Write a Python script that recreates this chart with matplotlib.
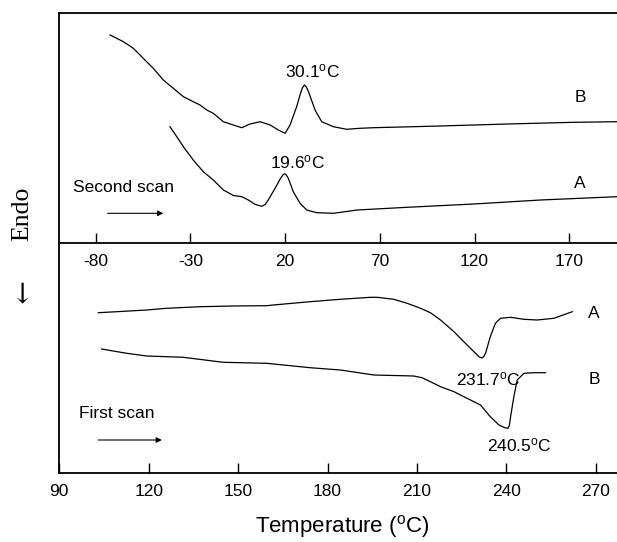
import matplotlib
matplotlib.use("Agg")
import matplotlib.pyplot as plt

plt.rcParams['font.family'] = ['Liberation Sans', 'DejaVu Sans']
plt.rcParams['mathtext.fontset'] = 'custom'
plt.rcParams['mathtext.rm'] = 'Liberation Sans'
plt.rcParams['mathtext.it'] = 'Liberation Sans'

# ---- Second scan (top panel), temperature in degC, heat flow in a.u. ----
second_B_T = [-72.4, -68.9, -65.4, -60.1, -54.9, -49.6, -44.3, -39.0, -33.7, -28.5,
              -24.9, -21.4, -17.9, -12.6, -7.3, -2.9, 1.5, 6.8, 12.1, 16.4,
              20.0, 22.6, 26.1, 28.0, 29.2, 30.2, 31.2, 32.4, 33.6, 35.8, 39.3,
              45.5, 52.5, 59.5, 66.8, 101.9, 137.2, 172.4, 195.2]
second_B_h = [208, 204.7, 201.3, 194.7, 184.7, 174.7, 163, 154.7, 146.3, 141.3,
              138, 133, 129.7, 121.3, 118, 115.3, 119, 121.3, 118, 113,
              109.7, 118, 136.3, 149, 155.5, 158, 156, 151, 144.7, 133, 121.3,
              116.3, 113.7, 114.7, 115.3, 117, 119, 120.7, 121.3]

second_A_T = [-40.8, -37.2, -33.7, -28.5, -23.2, -17.9, -12.6, -7.3, -2.9, 0.6,
              4.1, 7.7, 9.5, 11.1, 14.7, 17.3, 18.8, 19.6, 20.5, 21.7, 24.3, 27.9, 31.4,
              36.7, 45.5, 58.0, 84.4, 119.6, 154.8, 195.2]
second_A_h = [116.3, 106.3, 96.3, 83, 71.3, 63, 53, 47.5, 46.3, 43,
              38.7, 36.7, 38.5, 43, 54.7, 63.7, 68, 69.3, 68.3, 64.7, 51.3, 39.7, 33,
              30.3, 29.7, 33, 35.7, 39, 43, 46.3]

# ---- First scan (bottom panel) ----
first_A_T = [103.1, 109.3, 119.3, 126.0, 137.2, 148.4, 159.6, 161.8, 174.1, 184.3,
             194.4, 196.6, 202.2, 206.7, 211.2, 214.5, 217.9, 222.4, 225.7, 229.1,
             230.8, 231.7, 232.4, 233.0, 234.6, 236.3, 238.0, 241.4, 245.9, 250.3,
             255.9, 262.1]
first_A_h = [160.6, 161.6, 163.3, 165, 166.6, 167.3, 167.6, 168.3, 171.6, 174,
             176, 176, 174, 170, 165, 160.6, 153.3, 141.6, 131.6, 121.6,
             116.5, 115.3, 116.5, 120, 136.6, 150, 155, 156, 154, 153.3,
             155, 161.6]

first_B_T = [104.2, 112.6, 119.3, 131.6, 145.0, 159.6, 174.1, 184.3, 195.5, 208.9,
             211.7, 214.5, 217.9, 222.4, 226.8, 231.3, 234.6, 237.5, 239.5, 240.5,
             241.0, 241.4, 242.5, 243.6, 245.9, 249.2, 253.1]
first_B_h = [124.3, 120, 117.3, 116, 111, 110, 105.6, 103.3, 98.3, 97.3,
             95.6, 91.6, 86.6, 81.6, 75, 68.3, 56.6, 48.3, 45.5, 45,
             48, 56.6, 76.6, 93.3, 100, 100.6, 100.6]

top_ticks = [-80, -30, 20, 70, 120, 170]
bottom_ticks = [90, 120, 150, 180, 210, 240, 270]

W, H = 617, 542
fig = plt.figure(figsize=(W / 100, H / 100), dpi=100)

left = 59.3 / W
ax_top = fig.add_axes([left, 1 - 243 / H, 1 - left, 230.3 / H])
ax_bot = fig.add_axes([left, 1 - 473.3 / H, 1 - left, 230.3 / H])

lw = 0.9
ax_top.plot(second_B_T, second_B_h, color='black', lw=lw)
ax_top.plot(second_A_T, second_A_h, color='black', lw=lw)
ax_bot.plot(first_A_T, first_A_h, color='black', lw=lw)
ax_bot.plot(first_B_T, first_B_h, color='black', lw=lw)

ax_top.set_xlim(-99.2, 195.2)
ax_top.set_ylim(0, 230.3)
ax_bot.set_xlim(90, 277.1)
ax_bot.set_ylim(0, 230.3)

for ax, ticks in ((ax_top, top_ticks), (ax_bot, bottom_ticks)):
    ax.set_xticks(ticks)
    ax.set_xticklabels([str(t) for t in ticks])
    ax.set_yticks([])
    ax.tick_params(axis='x', direction='in', length=7, width=1.0, pad=8,
                   labelsize=12.5, top=False)
    ax.spines['right'].set_visible(False)
    for s in ('left', 'bottom', 'top'):
        ax.spines[s].set_linewidth(1.3)
    ax.patch.set_alpha(0)
ax_bot.spines['top'].set_visible(False)

# annotations top
fs = 12.5
ax_top.text(34.7, 172, r'30.1$^{\rm o}$C', ha='center', va='center', fontsize=fs)
ax_top.text(26.3, 81, r'19.6$^{\rm o}$C', ha='center', va='center', fontsize=fs)
ax_top.text(175.7, 145.3, 'B', ha='center', va='center', fontsize=fs)
ax_top.text(175.7, 59, 'A', ha='center', va='center', fontsize=fs)
ax_top.text(-92.1, 55, 'Second scan', ha='left', va='center', fontsize=fs)
ax_top.annotate('', xy=(-44.3, 29.7), xytext=(-73.7, 29.7),
                arrowprops=dict(arrowstyle='-|>', lw=0.8, color='black',
                                mutation_scale=8, shrinkA=0, shrinkB=0))

# annotations bottom
ax_bot.text(269.4, 159.3, 'A', ha='center', va='center', fontsize=fs)
ax_bot.text(269.4, 94, 'B', ha='center', va='center', fontsize=fs)
ax_bot.text(233.9, 94, r'231.7$^{\rm o}$C', ha='center', va='center', fontsize=fs)
ax_bot.text(244.4, 28.3, r'240.5$^{\rm o}$C', ha='center', va='center', fontsize=fs)
ax_bot.text(96.7, 60, 'First scan', ha='left', va='center', fontsize=fs)
ax_bot.annotate('', xy=(124.4, 33.3), xytext=(103.1, 33.3),
                arrowprops=dict(arrowstyle='-|>', lw=0.8, color='black',
                                mutation_scale=8, shrinkA=0, shrinkB=0))

fig.text(342 / W, 1 - 527 / H, r'Temperature ($^{\rm o}$C)', ha='center', va='center',
         fontsize=16)
fig.text(22 / W, 1 - 214 / H, 'Endo', rotation=90, ha='center', va='center',
         fontsize=18.5, family=['Liberation Serif', 'DejaVu Serif'])
fig.text(21.7 / W, 1 - 295 / H, '\u2193', ha='center', va='center',
         fontsize=20, family=['DejaVu Serif', 'DejaVu Sans'])

fig.savefig('out.png', dpi=100)
